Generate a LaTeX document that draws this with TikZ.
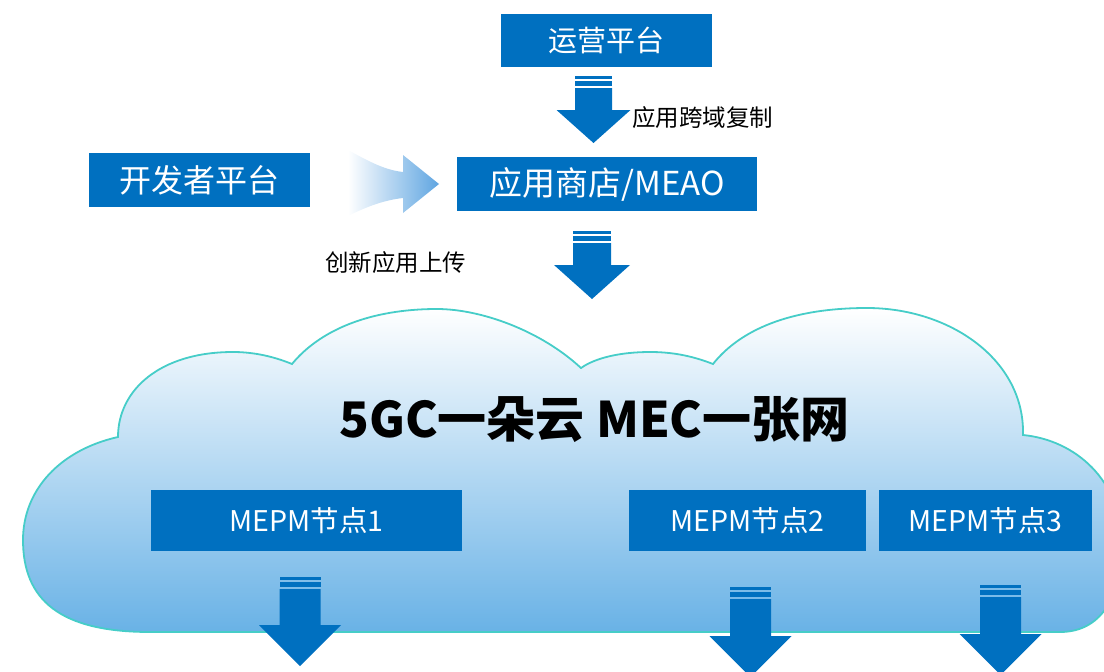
\documentclass[tikz,border=0pt]{standalone}
\usepackage{fontspec}
\setmainfont{Noto Sans CJK SC}
\definecolor{boxblue}{RGB}{0,112,192}
\definecolor{cloudline}{RGB}{70,205,200}
\definecolor{cloudblue}{RGB}{105,178,230}
\definecolor{swooshblue}{RGB}{95,165,225}
% cx, top, head base, tip, half width of shaft
\newcommand{\stackarrow}[5]{%
  \fill[boxblue] ({#1-#5},{#2}) rectangle ({#1+#5},{#2+2.5});
  \fill[boxblue] ({#1-#5},{#2+4.5}) rectangle ({#1+#5},{#2+9.5});
  \fill[boxblue] ({#1-#5},{#2+12}) -- ({#1-#5},{#3}) -- ({#1-2*#5},{#3}) -- ({#1},{#4})
    -- ({#1+2*#5},{#3}) -- ({#1+#5},{#3}) -- ({#1+#5},{#2+12}) -- cycle;
}
\begin{document}
\begin{tikzpicture}[x=1pt,y=-1pt]
\tikzset{bluebox/.style={fill=boxblue,text=white,inner sep=0pt,font=\fontsize{29}{32}\selectfont}}
\tikzset{nodebox/.style={bluebox,minimum height=61pt,font=\fontsize{28.5}{32}\selectfont}}
\tikzset{note/.style={inner sep=0pt,font=\fontsize{23.5}{26}\selectfont}}
\useasboundingbox (0,0) rectangle (1104,672);
\clip (0,0) rectangle (1104,672);

% cloud
\shade[top color=white,bottom color=cloudblue,draw=cloudline,line width=1.8pt]
  (150,632) -- (1060,632)
  .. controls (1105,632) and (1122,590) .. (1122,545)
  .. controls (1122,480) and (1075,440) .. (1023,435)
  .. controls (1025,360) and (950,308) .. (867,308)
  .. controls (790,308) and (740,330) .. (713,364)
  .. controls (690,355) and (670,352) .. (650,352)
  .. controls (620,352) and (595,358) .. (581,368)
  .. controls (540,330) and (480,309) .. (437,309)
  .. controls (370,309) and (320,330) .. (292,364)
  .. controls (270,355) and (250,352) .. (233,352)
  .. controls (160,352) and (118,390) .. (118,437)
  .. controls (60,450) and (23,490) .. (23,540)
  .. controls (23,600) and (60,632) .. (150,632) -- cycle;

\node[bluebox,minimum width=211pt,minimum height=53pt] (ops) at (606.5,40.5) {运营平台};
\node[bluebox,minimum width=221pt,minimum height=54pt,font=\fontsize{32}{35}\selectfont] (dev) at (199.5,180) {开发者平台};
\node[bluebox,minimum width=300pt,minimum height=54pt,font=\fontsize{33}{36}\selectfont] (store) at (607,184) {应用商店/MEAO};

\node[nodebox,minimum width=311pt] (mepmA) at (306.5,520.5) {MEPM节点1};
\node[nodebox,minimum width=237pt] (mepmB) at (747.5,520.5) {MEPM节点2};
\node[nodebox,minimum width=213pt] (mepmC) at (985.5,520.5) {MEPM节点3};

\node[font=\bfseries\fontsize{49}{53}\selectfont] (title) at (594.5,420) {5GC一朵云 MEC一张网};
\node[note] (copy) at (702.5,118) {应用跨域复制};
\node[note] (upload) at (395.5,263) {创新应用上传};

% arrows
\stackarrow{593.5}{76}{110}{143}{18.5}
\stackarrow{592}{231}{265}{299}{19}
\stackarrow{300}{577}{625}{666}{20.5}
\stackarrow{750.5}{587}{636}{677}{20.5}
\stackarrow{1000.5}{585}{634}{675}{20.5}

\shade[left color=white,right color=swooshblue]
  (348,150) .. controls (370,162) and (385,170) .. (403,172)
  -- (403,155) -- (439,184) -- (403,213) -- (403,198)
  .. controls (385,200) and (368,206) .. (348,216) -- cycle;
\end{tikzpicture}
\end{document}
